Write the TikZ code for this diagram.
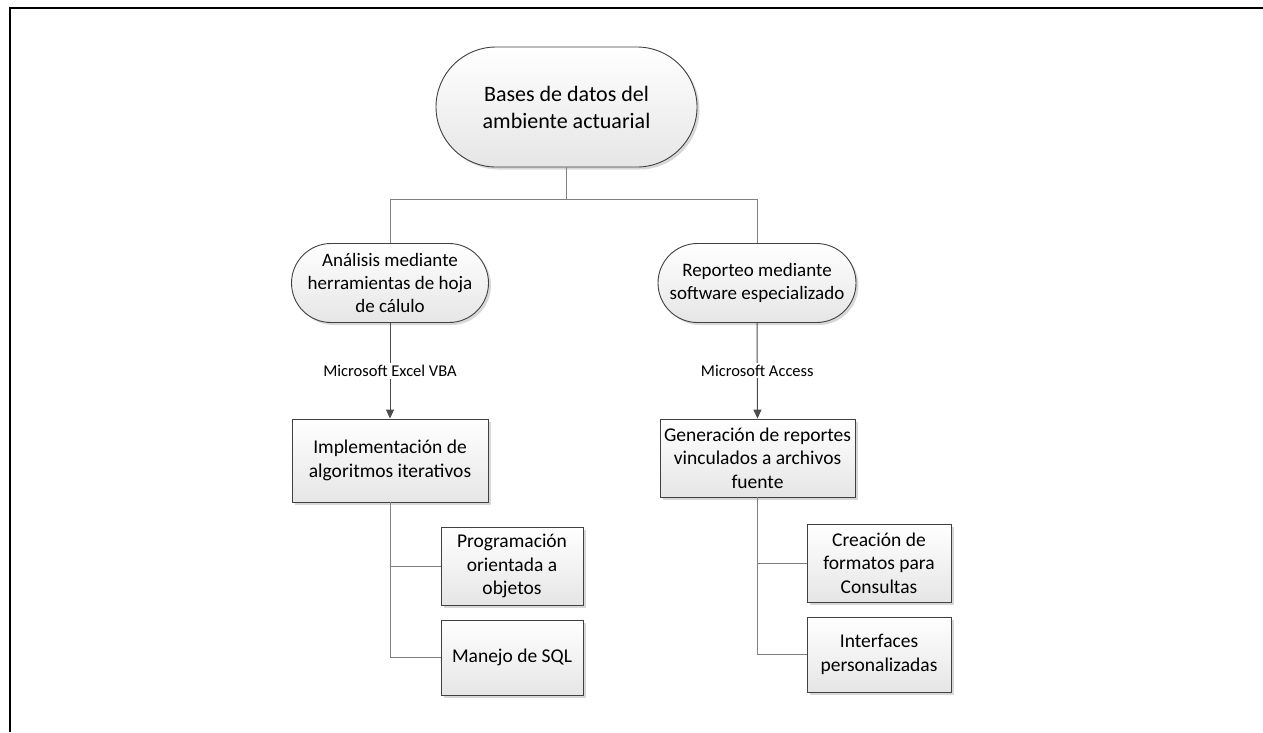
\documentclass[tikz,border=0pt]{standalone}
\usepackage{fontspec}
\setmainfont{Carlito}
\usetikzlibrary{arrows.meta,shadows}
\begin{document}
\begin{tikzpicture}[x=1pt,y=-1pt,
  base/.style={draw=black!75, line width=0.9pt, top color=white, bottom color=black!10,
    align=center, inner sep=2pt,
    drop shadow={shadow xshift=2.5pt, shadow yshift=-2.5pt, fill=black!30, opacity=0.5}},
  stadium/.style={base, rectangle, font=\fontsize{19}{23.3}\selectfont},
  box/.style={base, rectangle, font=\fontsize{19.5}{23.5}\selectfont},
  conn/.style={draw=black!50, line width=1pt},
  arr/.style={draw=black!70, line width=1pt, -{Triangle[length=9pt,width=8pt]}},
  lbl/.style={fill=white, font=\fontsize{16.5}{20}\selectfont, inner sep=2pt}
]
\useasboundingbox (0,0) rectangle (1263,732);
\draw[line width=2pt] (10,732) -- (10,8) -- (1263,8);

\node[stadium, rounded corners=60pt, minimum width=261pt, minimum height=120pt,
  font=\fontsize{22}{27}\selectfont] (top) at (566.5,107) {Bases de datos del\\ambiente actuarial};
\node[stadium, rounded corners=39.5pt, minimum width=197pt, minimum height=79pt] (s1) at (390,283)
  {Análisis mediante\\herramientas de hoja\\de cálulo};
\node[stadium, rounded corners=39.5pt, minimum width=198pt, minimum height=79pt] (s2) at (757,283)
  {Reporteo mediante\\software especializado};

\node[box, minimum width=196pt, minimum height=83pt] (b1) at (390,460.5)
  {Implementación de\\algoritmos iterativos};
\node[box, minimum width=195pt, minimum height=78pt] (b2) at (757.5,458)
  {Generación de reportes\\vinculados a archivos\\fuente};

\node[box, minimum width=142pt, minimum height=78pt] (c1) at (512,566)
  {Programación\\orientada a\\objetos};
\node[box, minimum width=142pt, minimum height=75pt] (c2) at (512,657.5)
  {Manejo de SQL};
\node[box, minimum width=144pt, minimum height=78pt] (c3) at (879,563)
  {Creación de\\formatos para\\Consultas};
\node[box, minimum width=144pt, minimum height=75pt] (c4) at (879,654.5)
  {Interfaces\\personalizadas};

\coordinate (j) at (566.5,199);
\draw[conn] (top.south) -- (j);
\draw[conn] (j) -| (s1.north);
\draw[conn] (j) -| (s2.north);
\draw[arr] (s1.south) -- node[lbl]{Microsoft Excel VBA} (b1.north);
\draw[arr] (s2.south) -- node[lbl]{Microsoft Access} (b2.north);
\draw[conn] (b1.south) |- (c1.west);
\draw[conn] (b1.south) |- (c2.west);
\draw[conn] (b2.south) |- (c3.west);
\draw[conn] (b2.south) |- (c4.west);
\end{tikzpicture}
\end{document}
